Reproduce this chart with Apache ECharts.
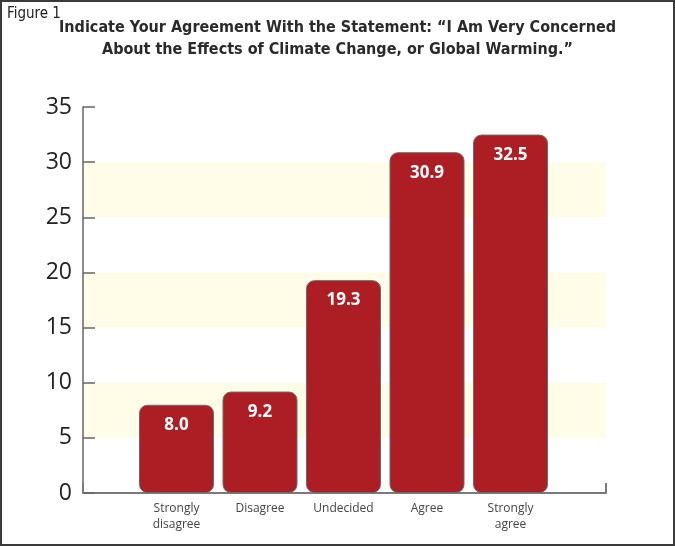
<!DOCTYPE html>
<html>
<head>
<meta charset="utf-8">
<script src="https://cdn.jsdelivr.net/npm/echarts@6/dist/echarts.min.js"></script>
<style>
html,body{margin:0;padding:0;background:#fff;}
#chart{width:675px;height:546px;}
</style>
</head>
<body>
<div id="chart"></div>
<script>
const categories = ['Strongly\ndisagree', 'Disagree', 'Undecided', 'Agree', 'Strongly\nagree'];
const values = [8.0, 9.2, 19.3, 30.9, 32.5];
const yTicks = [0, 5, 10, 15, 20, 25, 30, 35];
const titleLines = ['Indicate Your Agreement With the Statement: \u201cI Am Very Concerned',
                    'About the Effects of Climate Change, or Global Warming.\u201d'];

const chart = echarts.init(document.getElementById('chart'), null, {renderer: 'canvas'});
const titleFont = "'Liberation Sans Narrow', 'DejaVu Sans Condensed', 'Roboto Condensed', sans-serif";
const option = {
  animation: false,
  backgroundColor: '#ffffff',
  graphic: [
    {type: 'rect', shape: {x: 1, y: 1, width: 673, height: 544}, style: {fill: 'none', stroke: '#3a3a3a', lineWidth: 2}, z: 100},
    {type: 'text', left: 7, top: 7, style: {text: 'Figure 1', font: "15px " + titleFont, fill: '#222'}},
    {type: 'text', left: 'center', top: 20, style: {text: titleLines[0], font: "bold 16px " + titleFont, fill: '#2a2a2a'}, x: 4},
    {type: 'text', left: 'center', top: 42, style: {text: titleLines[1], font: "bold 16px " + titleFont, fill: '#2a2a2a'}, x: 4}
  ],
  grid: [
    {left: 83, right: 69, top: 107, bottom: 53},
    {left: 134.75, right: 122.75, top: 107, bottom: 53}
  ],
  xAxis: [
    {type: 'value', gridIndex: 0, min: 0, max: 1, interval: 1,
     axisLine: {show: true, lineStyle: {color: '#7a7a7a', width: 2}},
     axisTick: {show: true, inside: true, length: 10, lineStyle: {color: '#7a7a7a', width: 2}},
     axisLabel: {show: false}, splitLine: {show: false}},
    {type: 'category', gridIndex: 1, data: categories,
     axisLine: {show: false}, axisTick: {show: false},
     axisLabel: {color: '#444', fontSize: 12, fontFamily: "'Open Sans', sans-serif", lineHeight: 16, margin: 8}}
  ],
  yAxis: [
    {type: 'value', gridIndex: 0, min: 0, max: 35, interval: 5,
     axisLine: {show: true, lineStyle: {color: '#666', width: 1.5}},
     axisTick: {show: true, inside: true, length: 12, lineStyle: {color: '#666', width: 1.5}},
     axisLabel: {color: '#222', fontSize: 23, fontFamily: "'Open Sans', sans-serif", margin: 11,
                 formatter: v => yTicks.includes(v) ? String(v) : ''},
     splitLine: {show: false},
     splitArea: {show: true, areaStyle: {color: ['rgba(255,255,255,0)', '#fffde8']}}},
    {type: 'value', gridIndex: 1, min: 0, max: 35, interval: 5, show: false}
  ],
  series: [{
    type: 'bar', xAxisIndex: 1, yAxisIndex: 1, data: values, barWidth: 75,
    itemStyle: {color: '#ad1e24', borderColor: '#6b6b6b', borderWidth: 1, borderRadius: 8},
    label: {show: true, position: 'insideTop', distance: 12, color: '#fff', fontWeight: 'bold',
            fontSize: 17, fontFamily: "'Open Sans', sans-serif", formatter: p => p.value.toFixed(1)}
  }]
};
chart.setOption(option);
</script>
</body>
</html>
